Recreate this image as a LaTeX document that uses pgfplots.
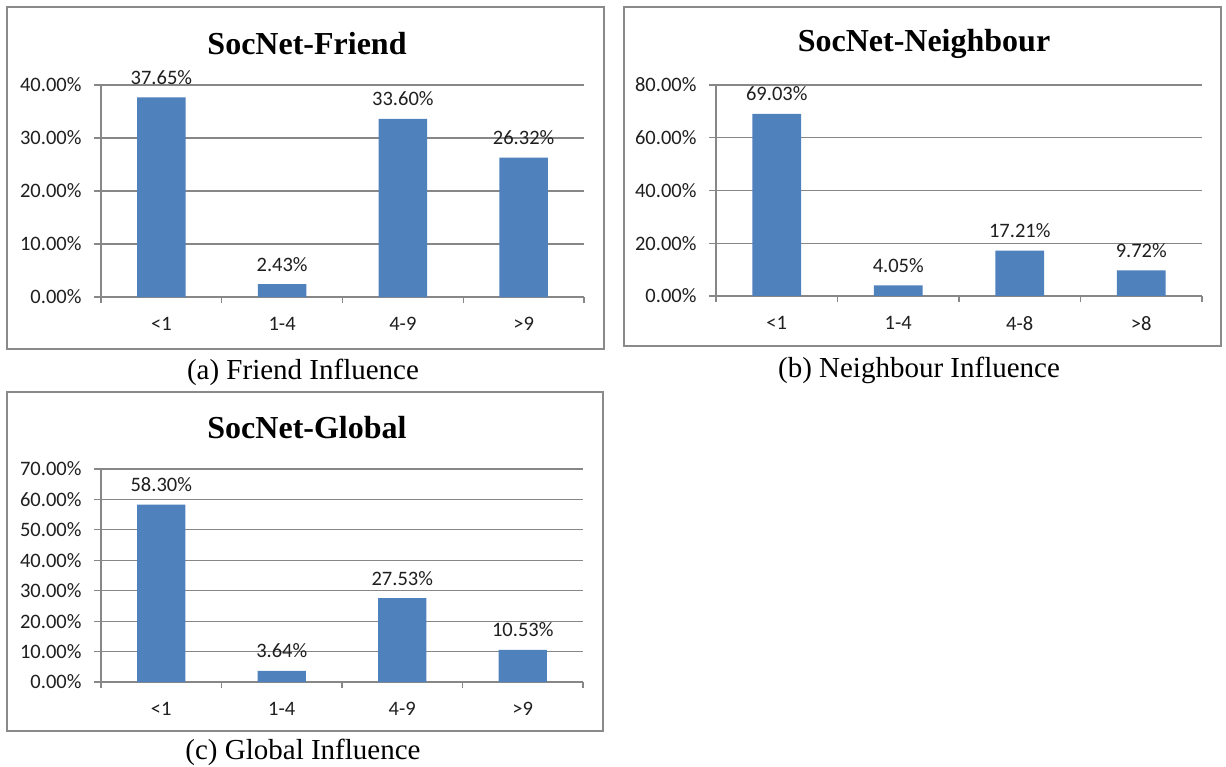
\documentclass[border=0pt]{standalone}
\usepackage{pgfplots}
\pgfplotsset{compat=1.18}
\usepackage{fontspec}
\setmainfont{Liberation Serif}
\newfontfamily\calfont{Carlito}
\definecolor{barblue}{HTML}{4F81BD}
\definecolor{gridgray}{HTML}{878787}
\definecolor{framegray}{HTML}{8A8A8A}
\definecolor{txt}{HTML}{1F1F1F}

\pgfplotsset{excelbar/.style={
  scale only axis, anchor=south west,
  xmin=-0.5, xmax=3.5, ymin=0,
  axis x line=bottom, axis y line=left,
  axis line style={-, draw=gridgray, line width=1.2pt},
  ymajorgrids, grid style={draw=gridgray, line width=1.2pt},
  xtick={0,1,2,3},
  minor xtick={-0.5,0.5,1.5,2.5,3.5},
  major x tick style={draw=none},
  minor x tick style={draw=gridgray, line width=1.2pt},
  minor tick length=6pt,
  major y tick style={draw=gridgray, line width=1.2pt},
  major tick length=7pt,
  tick align=outside,
  ticklabel style={font=\calfont\fontsize{20.5}{24}\selectfont, text=txt},
  yticklabel style={xshift=-9pt},
  xticklabel style={yshift=-10pt},
  ybar, bar width=0.4,
  nodes near coords, point meta=explicit symbolic,
  nodes near coords style={font=\calfont\fontsize{20.5}{24}\selectfont, text=txt, anchor=center, yshift=20pt},
  clip=false,
}}

\begin{document}
\begin{tikzpicture}
\path[use as bounding box, fill=white] (0pt,0pt) rectangle (1226pt,-767pt);

% frames
\draw[framegray, line width=2pt] (7pt,-7pt) rectangle (604pt,-349pt);
\draw[framegray, line width=2pt] (624pt,-7pt) rectangle (1221pt,-346pt);
\draw[framegray, line width=2pt] (7pt,-392pt) rectangle (603pt,-731pt);

% titles
\node[font=\bfseries\fontsize{32}{36}\selectfont] at (307pt,-44pt) {SocNet-Friend};
\node[font=\bfseries\fontsize{32}{36}\selectfont] at (924pt,-44pt) {SocNet-Neighbour};
\node[font=\bfseries\fontsize{32}{36}\selectfont] at (307pt,-428pt) {SocNet-Global};

% captions
\node[font=\fontsize{29}{33}\selectfont] at (303pt,-372pt) {(a) Friend Influence};
\node[font=\fontsize{29}{33}\selectfont] at (919pt,-370pt) {(b) Neighbour Influence};
\node[font=\fontsize{29}{33}\selectfont] at (303pt,-752pt) {(c) Global Influence};

% (a)
\begin{axis}[excelbar, at={(101pt,-297pt)}, width=483pt, height=212pt,
  ymax=40, ytick={0,10,20,30,40},
  yticklabels={0.00\%,10.00\%,20.00\%,30.00\%,40.00\%},
  xticklabels={<1,1-4,4-9,>9}]
\addplot[fill=barblue, draw=none] coordinates {(0,37.65) [37.65\%] (1,2.43) [2.43\%] (2,33.60) [33.60\%] (3,26.32) [26.32\%]};
\end{axis}

% (b)
\begin{axis}[excelbar, at={(716pt,-296pt)}, width=486pt, height=211pt,
  ymax=80, ytick={0,20,40,60,80},
  yticklabels={0.00\%,20.00\%,40.00\%,60.00\%,80.00\%},
  xticklabels={<1,1-4,4-8,>8}]
\addplot[fill=barblue, draw=none] coordinates {(0,69.03) [69.03\%] (1,4.05) [4.05\%] (2,17.21) [17.21\%] (3,9.72) [9.72\%]};
\end{axis}

% (c)
\begin{axis}[excelbar, at={(101pt,-682pt)}, width=482pt, height=213pt,
  ymax=70, ytick={0,10,20,30,40,50,60,70},
  yticklabels={0.00\%,10.00\%,20.00\%,30.00\%,40.00\%,50.00\%,60.00\%,70.00\%},
  xticklabels={<1,1-4,4-9,>9}]
\addplot[fill=barblue, draw=none] coordinates {(0,58.30) [58.30\%] (1,3.64) [3.64\%] (2,27.53) [27.53\%] (3,10.53) [10.53\%]};
\end{axis}
\end{tikzpicture}
\end{document}
